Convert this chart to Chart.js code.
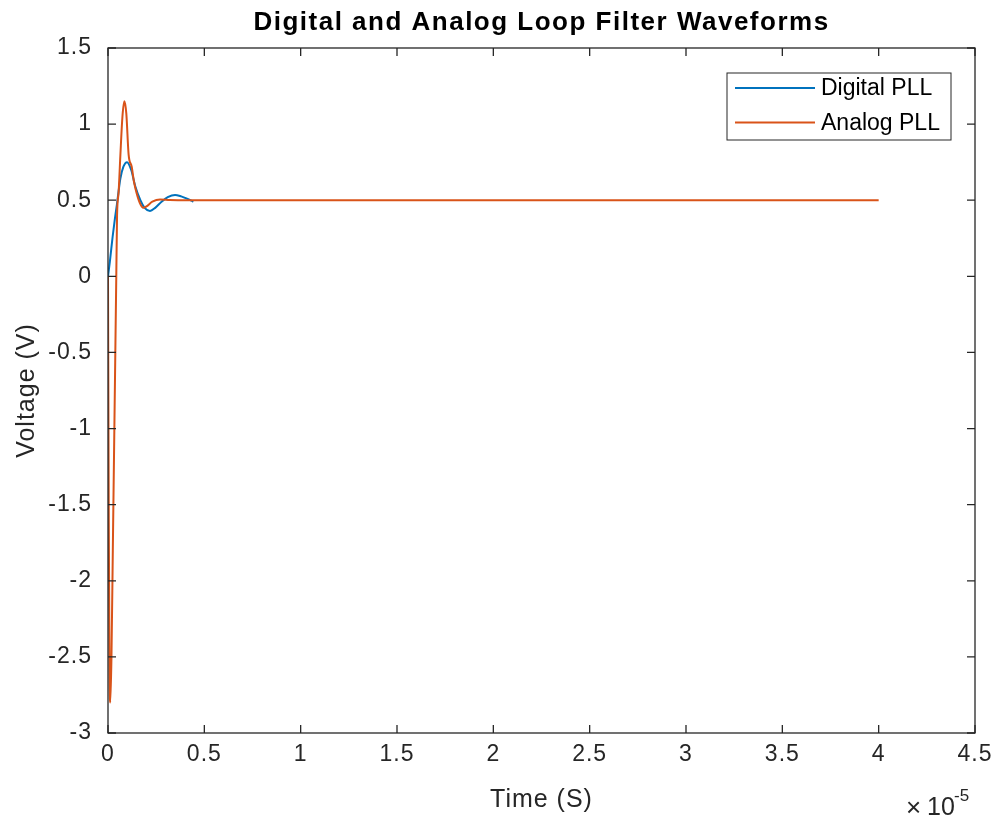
<!DOCTYPE html>
<html>
<head>
<meta charset="utf-8">
<title>Digital and Analog Loop Filter Waveforms</title>
<script src="https://cdn.jsdelivr.net/npm/chart.js@4.4.1/dist/chart.umd.min.js"></script>
<style>
    html, body { margin: 0; padding: 0; background: #fff; }
    #wrap { width: 1002px; height: 825px; }
</style>
</head>
<body>
<div id="wrap"><canvas id="loopChart" width="1002" height="825"></canvas></div>
<script>
'use strict';

// --- DADOS (tempo em unidades de 1e-5 s) ---
const digitalTime = [0, 0.01, 0.024, 0.036, 0.046, 0.064, 0.08, 0.099, 0.12, 0.142, 0.168, 0.19, 0.218, 0.245, 0.278, 0.31, 0.348, 0.38, 0.41, 0.443];
const digitalVolt = [0, 0.1, 0.26, 0.38, 0.47, 0.64, 0.72, 0.75, 0.7, 0.59, 0.5, 0.45, 0.43, 0.45, 0.49, 0.52, 0.535, 0.525, 0.51, 0.49];

const analogTime = [0, 0.004, 0.008, 0.012, 0.018, 0.025, 0.032, 0.038, 0.043, 0.047, 0.055, 0.064, 0.075, 0.085, 0.095, 0.107, 0.123, 0.135, 0.149, 0.166, 0.183, 0.2, 0.23, 0.27, 0.32, 0.4, 4.0];
const analogVolt = [0, -1.6, -2.6, -2.8, -2.5, -1.8, -1.1, -0.5, 0, 0.4, 0.55, 0.79, 1.05, 1.15, 1.07, 0.8, 0.72, 0.62, 0.545, 0.48, 0.45, 0.46, 0.49, 0.505, 0.502, 0.5, 0.5];

const xTickValues = [0, 0.5, 1, 1.5, 2, 2.5, 3, 3.5, 4, 4.5];
const xTickLabels = ['0', '0.5', '1', '1.5', '2', '2.5', '3', '3.5', '4', '4.5'];
const yTickValues = [-3, -2.5, -2, -1.5, -1, -0.5, 0, 0.5, 1, 1.5];
const yTickLabels = ['-3', '-2.5', '-2', '-1.5', '-1', '-0.5', '0', '0.5', '1', '1.5'];

const seriesNames = ['Digital PLL', 'Analog PLL'];
const seriesColors = ['#0072BD', '#D95319'];

const AXIS_COLOR = '#262626';
const FONT = '"Liberation Sans", Arial, Helvetica, sans-serif';

const toPoints = (xs, ys) => xs.map((x, i) => ({ x: x, y: ys[i] }));
const labelFor = (values, labels, v) => {
    const i = values.findIndex(t => Math.abs(t - v) < 1e-9);
    return i >= 0 ? labels[i] : '';
};

// --- PLUGINS (caixa estilo MATLAB, titulo, legenda, expoente) ---
const matlabBox = {
    id: 'matlabBox',
    beforeDraw(chart) {
        // texto um pouco mais espacado, como o render do MATLAB
        chart.ctx.letterSpacing = '1px';
    },
    afterDraw(chart) {
        const { ctx, chartArea: a, scales } = chart;
        const tick = 8;
        ctx.save();
        ctx.strokeStyle = AXIS_COLOR;
        ctx.lineWidth = 1.3;
        ctx.strokeRect(a.left, a.top, a.right - a.left, a.bottom - a.top);
        ctx.beginPath();
        xTickValues.forEach(v => {
            const px = scales.x.getPixelForValue(v);
            ctx.moveTo(px, a.bottom); ctx.lineTo(px, a.bottom - tick);
            ctx.moveTo(px, a.top); ctx.lineTo(px, a.top + tick);
        });
        yTickValues.forEach(v => {
            const py = scales.y.getPixelForValue(v);
            ctx.moveTo(a.left, py); ctx.lineTo(a.left + tick, py);
            ctx.moveTo(a.right, py); ctx.lineTo(a.right - tick, py);
        });
        ctx.stroke();

        // titulo centrado sobre a area do grafico
        ctx.fillStyle = '#000';
        ctx.letterSpacing = '1.5px';
        ctx.font = 'bold 26px ' + FONT;
        ctx.textAlign = 'center';
        ctx.textBaseline = 'middle';
        ctx.fillText('Digital and Analog Loop Filter Waveforms', (a.left + a.right) / 2, 23);

        // legenda dentro do grafico
        ctx.letterSpacing = '0px';
        const lx = a.right - 248, ly = a.top + 25, lw = 224, lh = 67;
        ctx.fillStyle = '#fff';
        ctx.fillRect(lx, ly, lw, lh);
        ctx.strokeStyle = AXIS_COLOR;
        ctx.lineWidth = 1;
        ctx.strokeRect(lx, ly, lw, lh);
        chart.data.datasets.forEach((ds, i) => {
            const y = ly + 15 + i * 34.5;
            ctx.strokeStyle = ds.borderColor;
            ctx.lineWidth = 2;
            ctx.beginPath();
            ctx.moveTo(lx + 8, y); ctx.lineTo(lx + 88, y);
            ctx.stroke();
            ctx.fillStyle = '#000';
            ctx.font = '23px ' + FONT;
            ctx.textAlign = 'left';
            ctx.fillText(ds.label, lx + 94, y + 1);
        });

        // multiplicador do eixo x
        ctx.fillStyle = AXIS_COLOR;
        ctx.textBaseline = 'alphabetic';
        ctx.font = '26px ' + FONT;
        ctx.fillText('\u00D7', a.right - 69, 816);
        ctx.font = '25px ' + FONT;
        ctx.fillText('10', a.right - 48, 815);
        ctx.font = '17px ' + FONT;
        ctx.fillText('-5', a.right - 21, 801);
        ctx.restore();
    }
};

// --- GRAFICO ---
const ctx = document.getElementById('loopChart').getContext('2d');
new Chart(ctx, {
    type: 'line',
    data: {
        datasets: [
            {
                label: seriesNames[0],
                data: toPoints(digitalTime, digitalVolt),
                borderColor: seriesColors[0],
                borderWidth: 2,
                pointRadius: 0,
                cubicInterpolationMode: 'monotone',
                order: 2
            },
            {
                label: seriesNames[1],
                data: toPoints(analogTime, analogVolt),
                borderColor: seriesColors[1],
                borderWidth: 2,
                pointRadius: 0,
                cubicInterpolationMode: 'monotone',
                order: 1
            }
        ]
    },
    options: {
        responsive: false,
        devicePixelRatio: 1,
        animation: false,
        layout: { padding: { left: 0, right: 27, top: 48, bottom: 0 } },
        plugins: {
            legend: { display: false },
            title: { display: false },
            tooltip: { enabled: false }
        },
        scales: {
            x: {
                type: 'linear',
                min: 0,
                max: 4.5,
                afterFit: s => { s.height = 92; },
                afterBuildTicks: s => { s.ticks = xTickValues.map(v => ({ value: v })); },
                grid: { display: false, drawTicks: false },
                border: { display: false },
                ticks: {
                    color: AXIS_COLOR,
                    font: { family: FONT, size: 23 },
                    padding: 8,
                    maxRotation: 0,
                    callback: v => labelFor(xTickValues, xTickLabels, v)
                },
                title: {
                    display: true,
                    text: 'Time (S)',
                    color: AXIS_COLOR,
                    font: { family: FONT, size: 25 },
                    padding: { top: 0, bottom: 10 }
                }
            },
            y: {
                type: 'linear',
                min: -3,
                max: 1.5,
                afterFit: s => { s.width = 108; },
                afterBuildTicks: s => { s.ticks = yTickValues.map(v => ({ value: v })); },
                grid: { display: false, drawTicks: false },
                border: { display: false },
                ticks: {
                    color: AXIS_COLOR,
                    font: { family: FONT, size: 23 },
                    padding: 16,
                    callback: v => labelFor(yTickValues, yTickLabels, v)
                },
                title: {
                    display: true,
                    text: 'Voltage (V)',
                    color: AXIS_COLOR,
                    font: { family: FONT, size: 25 },
                    padding: { top: 12, bottom: 0 }
                }
            }
        }
    },
    plugins: [matlabBox]
});
</script>
</body>
</html>
